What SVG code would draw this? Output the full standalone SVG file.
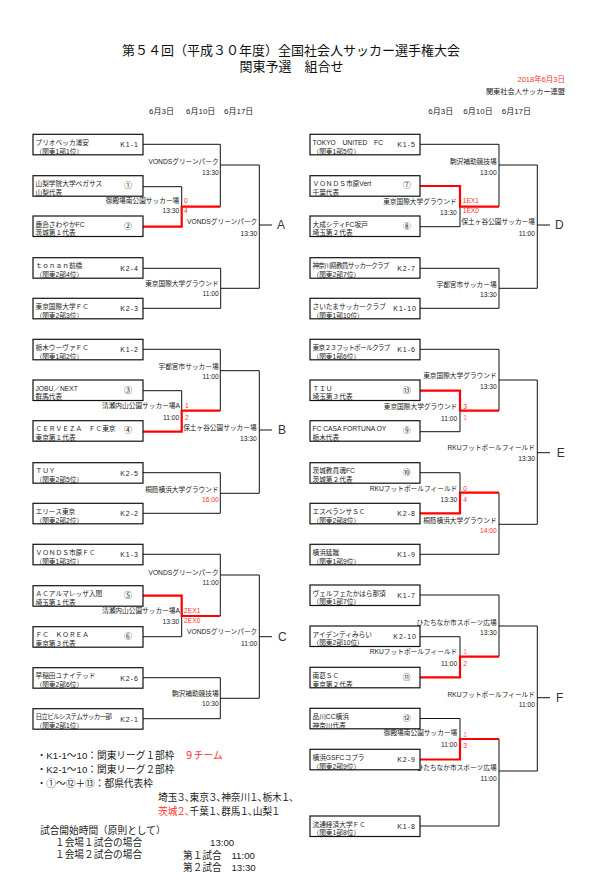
<svg xmlns="http://www.w3.org/2000/svg" width="593" height="882" viewBox="0 0 593 882">
<style>
text{font-family:"Liberation Sans","Noto Sans CJK JP",sans-serif;fill:#222;font-size:6.7px}
.ttl{font-family:"Liberation Sans","Noto Sans CJK JP",sans-serif;font-size:13px;text-anchor:middle;fill:#111}
.e{text-anchor:end}
.r{fill:#ff3030}
.p{fill:#ff5fa8}
.k{font-size:7px;letter-spacing:1px;text-anchor:end}
.c{font-size:8px;text-anchor:middle}
.d{font-size:8px}
.L{font-size:12px;fill:#333}
.f{font-size:9.7px}
.pa{font-feature-settings:"palt"}
.box{fill:#fff;stroke:#111;stroke-width:1.2}
.ln{fill:none;stroke:#111;stroke-width:1}
.rl{fill:none;stroke:#ff0000;stroke-width:2.2}
</style>
<rect width="593" height="882" fill="#fff"/>
<g id="title">
<text class="ttl" x="291" y="54.5">第５４回（平成３０年度）全国社会人サッカー選手権大会</text>
<text class="ttl" x="291.5" y="71">関東予選　組合せ</text>
<text class="e r" x="565" y="81.5" style="font-size:7.5px">2018年6月3日</text>
<text class="e" x="565" y="93.5" style="font-size:7.2px">関東社会人サッカー連盟</text>
<text class="d" x="149" y="113.5">6月3日</text>
<text class="d" x="186" y="113.5">6月10日</text>
<text class="d" x="224" y="113.5">6月17日</text>
<text class="d" x="428.3" y="113.5">6月3日</text>
<text class="d" x="463.3" y="113.5">6月10日</text>
<text class="d" x="501.7" y="113.5">6月17日</text>
</g>
<g id="connectors">
<path class="ln" d="M143 144.3H220.3V206.7M143 186.7H181.7V206.7M220.3 165H259.3M143 268.3H220.7V308.3H143M220.7 288.3H259.3M259.3 165V288.3M259.3 225H272"/>
<path class="rl" d="M143 226.7H181.7V206.7H220.3"/>
<path class="ln" d="M143 349.3H220.3V410.7M143 390.7H181.7V410.7M220.3 370.7H259.3M143 472.7H220.3V513.3H143M220.3 493.3H259.3M259.3 370.7V493.3M259.3 430H272"/>
<path class="rl" d="M143 431.7H181.7V410.7H220.3"/>
<path class="ln" d="M143 554.3H220.3V616M143 636.7H181.7V616M220.3 575H259.3M143 677.7H220.3V718.7H143M220.3 698.3H259.3M259.3 575V698.3M259.3 636.7H272"/>
<path class="rl" d="M143 595.7H181.7V616H220.3"/>
<path class="ln" d="M420 144.3H499V206.7M420 226.7H460V206.7M499 165H537.3M420 268.3H499V308.3H420M499 288.3H537.3M537.3 165V288.3M537.3 225H550"/>
<path class="rl" d="M420 186H460V206.7H499"/>
<path class="ln" d="M420 349.3H499V410.7M420 431.7H460V410.7M499 380H537.3M420 472.7H460V492.7M420 554.3H499V492.7M499 524.3H537.3M537.3 380V524.3M537.3 452.7H550"/>
<path class="rl" d="M420 390.7H460V410.7H499M420 513.3H460V492.7H499"/>
<path class="ln" d="M420 595H499V656.7M420 636.7H460V656.7M499 626H537.3M420 718.5H460V739M420 826H499V739M499 771H537.3M537.3 626V771M537.3 697.7H550"/>
<path class="rl" d="M420 677.3H460V656.7H499M420 759.5H460V739H499"/>
</g>
<g id="match-labels">
<text class="e" x="218.7" y="164.1">VONDSグリーンパーク</text><text class="e" x="218.7" y="175.1">13:30</text>
<text class="e" x="179.3" y="203.4">御殿場南公園サッカー場</text><text class="e" x="179.3" y="213.4">13:30</text>
<text class="r" x="184" y="203.4">0</text><text class="r" x="184" y="213.4">4</text>
<text class="e" x="257.3" y="224.1">VONDSグリーンパーク</text><text class="e" x="257.3" y="235.7">13:30</text>
<text class="e" x="218.7" y="285.7">東京国際大学グラウンド</text><text class="e" x="218.7" y="296.4">11:00</text>
<text class="e" x="218.7" y="369.1">宇都宮市サッカー場</text><text class="e" x="218.7" y="379.1">11:00</text>
<text class="e" x="180" y="408.4">清瀬内山公園サッカー場A</text><text class="e" x="179.3" y="419.7">11:00</text>
<text class="r" x="185" y="408.4">1</text><text class="r" x="185" y="419.7">2</text>
<text class="e" x="256.7" y="429.7">保土ヶ谷公園サッカー場</text><text class="e" x="256.7" y="440.7">13:30</text>
<text class="e" x="218.7" y="491.7">桐蔭横浜大学グラウンド</text><text class="e r" x="218.7" y="502.4">16:00</text>
<text class="e" x="218.7" y="574.7">VONDSグリーンパーク</text><text class="e" x="218.7" y="584.7">11:00</text>
<text class="e" x="180" y="613.4">清瀬内山公園サッカー場A</text><text class="e" x="179.3" y="624.1">13:30</text>
<text class="r" x="184" y="613.4">2EX1</text><text class="r" x="184" y="623.4">2EX0</text>
<text class="e" x="257.3" y="634.1">VONDSグリーンパーク</text><text class="e" x="257.3" y="645.7">11:00</text>
<text class="e" x="218.7" y="695.7">駒沢補助競技場</text><text class="e" x="218.7" y="706.4">10:30</text>
<text class="e" x="496.7" y="164.1">駒沢補助競技場</text><text class="e" x="496.7" y="175.1">13:00</text>
<text class="e" x="456.7" y="204.1">東京国際大学グラウンド</text><text class="e" x="456.7" y="215.1">13:30</text>
<text class="r" x="462.7" y="203.4">1EX1</text><text class="r" x="462.7" y="213.4">1EX0</text>
<text class="e" x="535" y="224.1">保土ヶ谷公園サッカー場</text><text class="e" x="535" y="235.7">11:00</text>
<text class="e" x="496.7" y="286.7">宇都宮市サッカー場</text><text class="e" x="496.7" y="296.7">13:30</text>
<text class="e" x="496.7" y="378.4">東京国際大学グラウンド</text><text class="e" x="496.7" y="389.1">13:30</text>
<text class="e" x="457.3" y="409.1">東京国際大学グラウンド</text><text class="e" x="457.3" y="420.7">11:00</text>
<text class="r" x="463.3" y="409.1">3</text><text class="p" x="463.3" y="419.7">1</text>
<text class="e" x="535" y="450.4">RKUフットボールフィールド</text><text class="e" x="535" y="461.4">13:30</text>
<text class="e" x="457.3" y="490.7">RKUフットボールフィールド</text><text class="e" x="457.3" y="502.4">13:30</text>
<text class="r" x="463.3" y="490.7">0</text><text class="r" x="463.3" y="501.7">4</text>
<text class="e" x="496.7" y="523.1">桐蔭横浜大学グラウンド</text><text class="e r" x="496.7" y="533.1">14:00</text>
<text class="e" x="496.7" y="625.1">ひたちなか市スポーツ広場</text><text class="e" x="496.7" y="635.1">13:30</text>
<text class="e" x="457.3" y="654.1">RKUフットボールフィールド</text><text class="e" x="457.3" y="665.7">11:00</text>
<text class="p" x="463.3" y="654.1">1</text><text class="r" x="463.3" y="665.7">2</text>
<text class="e" x="535" y="696.7">RKUフットボールフィールド</text><text class="e" x="535" y="707.4">11:00</text>
<text class="e" x="457.3" y="735.4">御殿場南公園サッカー場</text><text class="e" x="457.3" y="747.4">11:00</text>
<text class="p" x="463.3" y="737.4">1</text><text class="r" x="463.3" y="748.4">3</text>
<text class="e" x="496.7" y="770.4">ひたちなか市スポーツ広場</text><text class="e" x="496.7" y="781.4">11:00</text>
</g>
<g id="blocks">
<text class="L" x="277" y="229.3">A</text>
<text class="L" x="278" y="434.3">B</text>
<text class="L" x="278" y="641">C</text>
<text class="L" x="555" y="229.3">D</text>
<text class="L" x="556.7" y="457">E</text>
<text class="L" x="556" y="702">F</text>
</g>
<g id="team-K1-1" transform="translate(33,134.3)"><rect class="box" width="110" height="20.5"/><text x="2.5" y="10.5">プリオベッカ浦安</text><text x="2.5" y="19.3">（関東1部1位）</text><text class="k" x="106" y="13">K1-1</text></g>
<g id="team-01" transform="translate(33,175.7)"><rect class="box" width="110" height="20.5"/><text x="2.5" y="10.5">山梨学院大学ペガサス</text><text x="2.5" y="19.3">山梨代表</text><text class="c" x="95" y="12.8">①</text></g>
<g id="team-02" transform="translate(33,216)"><rect class="box" width="110" height="20.5"/><text x="2.5" y="10.5">鹿島さわやかFC</text><text x="2.5" y="19.3">茨城第１代表</text><text class="c" x="95" y="12.8">②</text></g>
<g id="team-K2-4" transform="translate(33,257.7)"><rect class="box" width="110" height="20.5"/><text x="2.5" y="10.5">ｔｏｎａｎ前橋</text><text x="2.5" y="19.3">（関東2部4位）</text><text class="k" x="106" y="13">K2-4</text></g>
<g id="team-K2-3" transform="translate(33,298.3)"><rect class="box" width="110" height="20.5"/><text x="2.5" y="10.5">東京国際大学ＦＣ</text><text x="2.5" y="19.3">（関東2部3位）</text><text class="k" x="106" y="13">K2-3</text></g>
<g id="team-K1-2" transform="translate(33,339.3)"><rect class="box" width="110" height="20.5"/><text x="2.5" y="10.5">栃木ウーヴァＦＣ</text><text x="2.5" y="19.3">（関東1部2位）</text><text class="k" x="106" y="13">K1-2</text></g>
<g id="team-03" transform="translate(33,380)"><rect class="box" width="110" height="20.5"/><text x="2.5" y="10.5">JOBU／NEXT</text><text x="2.5" y="19.3">群馬代表</text><text class="c" x="95" y="12.8">③</text></g>
<g id="team-04" transform="translate(33,420.7)"><rect class="box" width="110" height="20.5"/><text x="2.5" y="10.5" textLength="80">ＣＥＲＶＥＺＡ　ＦＣ東京</text><text x="2.5" y="19.3">東京第１代表</text><text class="c" x="95" y="12.8">④</text></g>
<g id="team-K2-5" transform="translate(33,462.7)"><rect class="box" width="110" height="20.5"/><text x="2.5" y="10.5">ＴＵＹ</text><text x="2.5" y="19.3">（関東2部5位）</text><text class="k" x="106" y="13">K2-5</text></g>
<g id="team-K2-2" transform="translate(33,503.3)"><rect class="box" width="110" height="20.5"/><text x="2.5" y="10.5">エリース東京</text><text x="2.5" y="19.3">（関東2部2位）</text><text class="k" x="106" y="13">K2-2</text></g>
<g id="team-K1-3" transform="translate(33,544.3)"><rect class="box" width="110" height="20.5"/><text x="2.5" y="10.5">ＶＯＮＤＳ市原ＦＣ</text><text x="2.5" y="19.3">（関東1部3位）</text><text class="k" x="106" y="13">K1-3</text></g>
<g id="team-05" transform="translate(33,585.7)"><rect class="box" width="110" height="20.5"/><text x="2.5" y="10.5">ＡＣアルマレッザ入間</text><text x="2.5" y="19.3">埼玉第１代表</text><text class="c" x="95" y="12.8">⑤</text></g>
<g id="team-06" transform="translate(33,626.7)"><rect class="box" width="110" height="20.5"/><text x="2.5" y="10.5">ＦＣ　ＫＯＲＥＡ</text><text x="2.5" y="19.3">東京第３代表</text><text class="c" x="95" y="12.8">⑥</text></g>
<g id="team-K2-6" transform="translate(33,667.7)"><rect class="box" width="110" height="20.5"/><text x="2.5" y="10.5">早稲田ユナイテッド</text><text x="2.5" y="19.3">（関東2部6位）</text><text class="k" x="106" y="13">K2-6</text></g>
<g id="team-K2-1" transform="translate(33,708.7)"><rect class="box" width="110" height="20.5"/><text x="2.5" y="10.5" textLength="76.5">日立ビルシステムサッカー部</text><text x="2.5" y="19.3">（関東2部1位）</text><text class="k" x="106" y="13">K2-1</text></g>
<g id="team-K1-5" transform="translate(310,134.3)"><rect class="box" width="110" height="20.5"/><text x="2.5" y="10.5">TOKYO　UNITED　FC</text><text x="2.5" y="19.3">（関東1部5位）</text><text class="k" x="106" y="13">K1-5</text></g>
<g id="team-07" transform="translate(310,175.7)"><rect class="box" width="110" height="20.5"/><text x="2.5" y="10.5">ＶＯＮＤＳ市原Vert</text><text x="2.5" y="19.3">千葉代表</text><text class="c" x="96.7" y="12.8">⑦</text></g>
<g id="team-08" transform="translate(310,216)"><rect class="box" width="110" height="20.5"/><text x="2.5" y="10.5">大成シティFC坂戸</text><text x="2.5" y="19.3">埼玉第２代表</text><text class="c" x="96.7" y="12.8">⑧</text></g>
<g id="team-K2-7" transform="translate(310,257.7)"><rect class="box" width="110" height="20.5"/><text x="2.5" y="10.5" textLength="77">神奈川県教員サッカークラブ</text><text x="2.5" y="19.3">（関東2部7位）</text><text class="k" x="106" y="13">K2-7</text></g>
<g id="team-K1-10" transform="translate(310,298.3)"><rect class="box" width="110" height="20.5"/><text x="2.5" y="10.5">さいたまサッカークラブ</text><text x="2.5" y="19.3">（関東1部10位）</text><text class="k" x="107" y="13">K1-10</text></g>
<g id="team-K1-6" transform="translate(310,339.3)"><rect class="box" width="110" height="20.5"/><text x="2.5" y="10.5" textLength="78">東京２３フットボールクラブ</text><text x="2.5" y="19.3">（関東1部6位）</text><text class="k" x="106" y="13">K1-6</text></g>
<g id="team-13" transform="translate(310,380)"><rect class="box" width="110" height="20.5"/><text x="2.5" y="10.5">ＴＩＵ</text><text x="2.5" y="19.3">埼玉第３代表</text><text class="c" x="96.7" y="12.8">⑬</text></g>
<g id="team-09" transform="translate(310,420.7)"><rect class="box" width="110" height="20.5"/><text x="2.5" y="10.5">FC CASA FORTUNA OY</text><text x="2.5" y="19.3">栃木代表</text><text class="c" x="96.7" y="12.8">⑨</text></g>
<g id="team-10" transform="translate(310,462.7)"><rect class="box" width="110" height="20.5"/><text x="2.5" y="10.5">茨城教員魂FC</text><text x="2.5" y="19.3">茨城第２代表</text><text class="c" x="96.7" y="12.8">⑩</text></g>
<g id="team-K2-8" transform="translate(310,503.3)"><rect class="box" width="110" height="20.5"/><text x="2.5" y="10.5">エスペランサＳＣ</text><text x="2.5" y="19.3">（関東2部8位）</text><text class="k" x="106" y="13">K2-8</text></g>
<g id="team-K1-9" transform="translate(310,544.3)"><rect class="box" width="110" height="20.5"/><text x="2.5" y="10.5">横浜猛蹴</text><text x="2.5" y="19.3">（関東1部9位）</text><text class="k" x="106" y="13">K1-9</text></g>
<g id="team-K1-7" transform="translate(310,585)"><rect class="box" width="110" height="20.5"/><text x="2.5" y="10.5">ヴェルフェたかはら那須</text><text x="2.5" y="19.3">（関東1部7位）</text><text class="k" x="106" y="13">K1-7</text></g>
<g id="team-K2-10" transform="translate(310,626)"><rect class="box" width="110" height="20.5"/><text x="2.5" y="10.5">アイデンティみらい</text><text x="2.5" y="19.3">（関東2部10位）</text><text class="k" x="107" y="13">K2-10</text></g>
<g id="team-11" transform="translate(310,667.3)"><rect class="box" width="110" height="20.5"/><text x="2.5" y="10.5">南葛ＳＣ</text><text x="2.5" y="19.3">東京第２代表</text><text class="c" x="96.7" y="12.8">⑪</text></g>
<g id="team-12" transform="translate(310,708.3)"><rect class="box" width="110" height="20.5"/><text x="2.5" y="10.5">品川CC横浜</text><text x="2.5" y="19.3">神奈川代表</text><text class="c" x="96.7" y="12.8">⑫</text></g>
<g id="team-K2-9" transform="translate(310,749.3)"><rect class="box" width="110" height="20.5"/><text x="2.5" y="10.5">横浜GSFCコブラ</text><text x="2.5" y="19.3">（関東2部9位）</text><text class="k" x="106" y="13">K2-9</text></g>
<g id="team-K1-8" transform="translate(310,816)"><rect class="box" width="110" height="20.5"/><text x="2.5" y="10.5">流通経済大学ＦＣ</text><text x="2.5" y="19.3">（関東1部8位）</text><text class="k" x="106" y="13">K1-8</text></g>
<g id="notes">
<text class="f" x="36.7" y="758.5">・K1-1～10：関東リーグ１部枠　<tspan class="r">９チーム</tspan></text>
<text class="f" x="36.7" y="772.5">・K2-1～10：関東リーグ２部枠</text>
<text class="f" x="36.7" y="786.5">・①～⑫＋⑬：都県代表枠</text>
<text class="f pa" x="158" y="800.5">埼玉３、東京３、神奈川１、栃木１、</text>
<text class="f pa" x="158" y="814.5"><tspan class="r">茨城２、</tspan>千葉１、群馬１、山梨１</text>
<text class="f" x="40" y="834">試合開始時間（原則として）</text>
<text class="f" x="55" y="846">１会場１試合の場合</text>
<text class="f" x="210" y="846">13:00</text>
<text class="f" x="55" y="858">１会場２試合の場合</text>
<text class="f" x="183" y="859">第１試合　11:00</text>
<text class="f" x="183" y="871">第２試合　13:30</text>
</g>
</svg>
